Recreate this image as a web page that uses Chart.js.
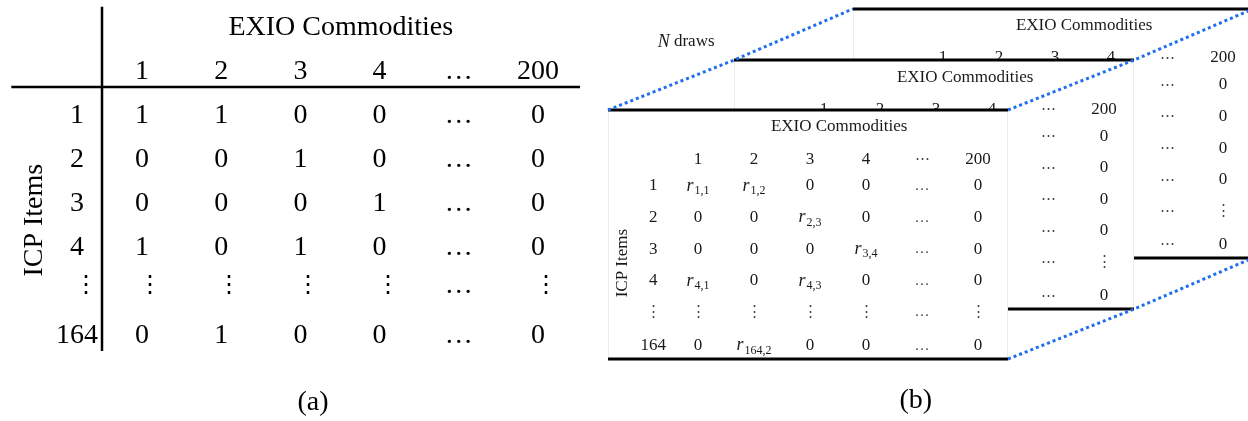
<!DOCTYPE html>
<html>
<head>
<meta charset="utf-8">
<script src="https://cdn.jsdelivr.net/npm/chart.js@4.4.1/dist/chart.umd.min.js"></script>
<style>
  html, body { margin: 0; padding: 0; background: #fff; }
  canvas { display: block; }
</style>
</head>
<body>
<canvas id="fig" width="1248" height="421" style="width:1248px;height:421px"></canvas>
<script>
// ---- matrix contents ----
const colsA = ["1", "2", "3", "4", "…", "200"];
const rowsA = ["1", "2", "3", "4", "⋮", "164"];
const cellsA = [
  ["1", "1", "0", "0", "…", "0"],
  ["0", "0", "1", "0", "…", "0"],
  ["0", "0", "0", "1", "…", "0"],
  ["1", "0", "1", "0", "…", "0"],
  ["⋮", "⋮", "⋮", "⋮", "…", "⋮"],
  ["0", "1", "0", "0", "…", "0"],
];

const colsB = ["1", "2", "3", "4", "⋯", "200"];
const rowsB = ["1", "2", "3", "4", "⋮", "164"];
// r_i,j = random draw for item i / commodity j
const cellsB = [
  ["r_1,1", "r_1,2", "0", "0", "…", "0"],
  ["0", "0", "r_2,3", "0", "…", "0"],
  ["0", "0", "0", "r_3,4", "…", "0"],
  ["r_4,1", "0", "r_4,3", "0", "…", "0"],
  ["⋮", "⋮", "⋮", "⋮", "…", "⋮"],
  ["0", "r_164,2", "0", "0", "…", "0"],
];

const colTitle = "EXIO Commodities";
const rowTitle = "ICP Items";

// ---- layout (in grid units of each panel) ----
const W = 1248, H = 421;
const rowPosA = [1, 2, 3, 4, 4.875, 6.0];
const rowPosB = [1, 2, 3, 4, 5, 6.05];
const headRowB = 0.15;
// stacked copies of table (b): front, middle, back
const layers = [
  { dc: 0, dr: 0 },
  { dc: 2.25, dr: -1.58 },
  { dc: 4.375, dr: -3.2 },
];
const frameB = { l: -1.607, r: 5.536, t: -1.405, b: 6.475 };
const BLUE = "#1f6ef0";
const SERIF = '"Liberation Serif", "Times New Roman", serif';

// linear range so that value v0 sits at pixel p0 with `step` px per unit
function span(p0, v0, step, len, shift) {
  const min = v0 - p0 / step - (shift || 0);
  return { min: min, max: min + len / step };
}

const scales = {
  xa: Object.assign({ type: "linear", display: false, bounds: "data" }, span(142, 0, 79.2, W)),
  ya: Object.assign({ type: "linear", display: false, reverse: true, bounds: "data" }, span(115.5, 1, 44, H)),
};
layers.forEach((l, k) => {
  scales["xb" + k] = Object.assign({ type: "linear", display: false, bounds: "data" }, span(698, 0, 56, W, l.dc));
  scales["yb" + k] = Object.assign({ type: "linear", display: false, reverse: true, bounds: "data" }, span(186, 1, 31.6, H, l.dr));
});

function text(ctx, s, x, y, font, align, color) {
  ctx.font = font;
  ctx.textAlign = align || "center";
  ctx.textBaseline = "middle";
  ctx.fillStyle = color || "#000";
  ctx.fillText(s, x, y);
}

function vtext(ctx, s, x, y, font, color) {
  ctx.save();
  ctx.translate(x, y);
  ctx.rotate(-Math.PI / 2);
  text(ctx, s, 0, 0, font, "center", color);
  ctx.restore();
}

function hline(ctx, x0, x1, y, w) {
  ctx.beginPath();
  ctx.lineWidth = w;
  ctx.strokeStyle = "#000";
  ctx.moveTo(x0, y);
  ctx.lineTo(x1, y);
  ctx.stroke();
}

// cell of table (b): plain or r with subscript
function cellB(ctx, s, x, y, copy) {
  const col = "#1a1a1a";
  if (s.indexOf("r_") === 0) {
    const sub = s.slice(2);
    ctx.font = "italic 18px " + SERIF;
    const w1 = ctx.measureText("r").width;
    ctx.font = "12px " + SERIF;
    const w2 = ctx.measureText(sub).width;
    const x0 = x - (w1 + w2 + 1) / 2;
    text(ctx, "r", x0, y, "italic 18px " + SERIF, "left", col);
    text(ctx, sub, x0 + w1 + 1, y + 5, "12px " + SERIF, "left", col);
  } else if (s === "…" || s === "⋮" || s === "⋯") {
    // the stacked copies show the centred ellipsis
    const g = copy && s === "…" ? "⋯" : s;
    text(ctx, g, x, y, "15px " + SERIF, "center", "#444");
  } else {
    text(ctx, s, x, y, "17px " + SERIF, "center", col);
  }
}

function drawPanelA(chart) {
  const ctx = chart.ctx;
  const xs = chart.scales.xa, ys = chart.scales.ya;
  const fa = "28px " + SERIF;
  const fd = "24px " + SERIF;
  const X = v => xs.getPixelForValue(v), Y = v => ys.getPixelForValue(v);

  text(ctx, colTitle, X(2.51), Y(-1.0), fa);
  colsA.forEach((c, j) => text(ctx, c, X(j), Y(0), fa));
  rowsA.forEach((r, i) => {
    const isV = r === "⋮";
    text(ctx, r, X(-0.82 + (isV ? 0.11 : 0)), Y(rowPosA[i]), isV ? fd : fa);
    cellsA[i].forEach((c, j) => {
      const v = c === "⋮";
      text(ctx, c, X(j + (v ? 0.1 : 0)), Y(rowPosA[i]), v ? fd : fa);
    });
  });
  vtext(ctx, rowTitle, X(-1.36), Y(3.38), fa);
  text(ctx, "(a)", X(2.16), Y(7.53), fa);

  hline(ctx, X(-1.65), X(5.53), Y(0.352), 2.5);
  ctx.beginPath();
  ctx.lineWidth = 2.5;
  ctx.moveTo(X(-0.505), Y(-1.47));
  ctx.lineTo(X(-0.505), Y(6.35));
  ctx.stroke();
}

function drawLayerB(chart, k) {
  const ctx = chart.ctx;
  const xs = chart.scales["xb" + k], ys = chart.scales["yb" + k];
  const X = v => xs.getPixelForValue(v), Y = v => ys.getPixelForValue(v);
  const fb = "17px " + SERIF;
  const l = X(frameB.l), r = X(frameB.r), t = Y(frameB.t), b = Y(frameB.b);
  const copy = k > 0;

  ctx.fillStyle = "#fff";
  ctx.fillRect(l, t, r - l, b - t);
  ctx.beginPath();
  ctx.lineWidth = 1;
  ctx.strokeStyle = "#ececec";
  ctx.moveTo(l + 0.5, t); ctx.lineTo(l + 0.5, b);
  ctx.moveTo(r - 0.5, t); ctx.lineTo(r - 0.5, b);
  ctx.stroke();

  text(ctx, colTitle, X(2.52), Y(-0.867), fb, "center", "#1a1a1a");
  colsB.forEach((c, j) => cellB(ctx, c, X(j), Y(headRowB), copy));
  rowsB.forEach((rw, i) => {
    cellB(ctx, rw, X(-0.8), Y(rowPosB[i]), copy);
    cellsB[i].forEach((c, j) => cellB(ctx, c, X(j), Y(rowPosB[i]), copy));
  });
  vtext(ctx, rowTitle, X(-1.34), Y(3.44), fb, "#1a1a1a");

  hline(ctx, l, r, t, 3);
  hline(ctx, l, r, b, 3);
}

const tablePlugin = {
  id: "tables",
  beforeDatasetsDraw(chart) {
    const ctx = chart.ctx;
    ctx.save();
    drawPanelA(chart);
    for (let k = layers.length - 1; k >= 0; k--) drawLayerB(chart, k);

    const xs = chart.scales.xb0, ys = chart.scales.yb0;
    // "N draws" label
    const x0 = xs.getPixelForValue(-0.72), y0 = ys.getPixelForValue(-3.56);
    ctx.font = "italic 18px " + SERIF;
    const wn = ctx.measureText("N").width;
    text(ctx, "N", x0, y0, "italic 18px " + SERIF, "left", "#1a1a1a");
    text(ctx, " draws", x0 + wn, y0, "17px " + SERIF, "left", "#1a1a1a");
    text(ctx, "(b)", xs.getPixelForValue(3.89), ys.getPixelForValue(7.8), "28px " + SERIF);
    ctx.restore();
  },
};

// dotted connectors through the corners of the stacked tables
const corners = [
  { x: frameB.l, y: frameB.t },
  { x: frameB.r, y: frameB.t },
  { x: frameB.r, y: frameB.b },
];
const datasets = corners.map(c => ({
  data: layers.map(l => ({ x: c.x + l.dc, y: c.y + l.dr })),
  xAxisID: "xb0",
  yAxisID: "yb0",
  showLine: true,
  borderColor: BLUE,
  borderWidth: 3,
  borderDash: [3, 3],
  pointRadius: 0,
  fill: false,
}));

new Chart(document.getElementById("fig").getContext("2d"), {
  type: "scatter",
  data: { datasets: datasets },
  options: {
    responsive: false,
    animation: false,
    events: [],
    layout: { padding: 0 },
    plugins: { legend: { display: false }, tooltip: { enabled: false } },
    scales: scales,
  },
  plugins: [tablePlugin],
});
</script>
</body>
</html>
